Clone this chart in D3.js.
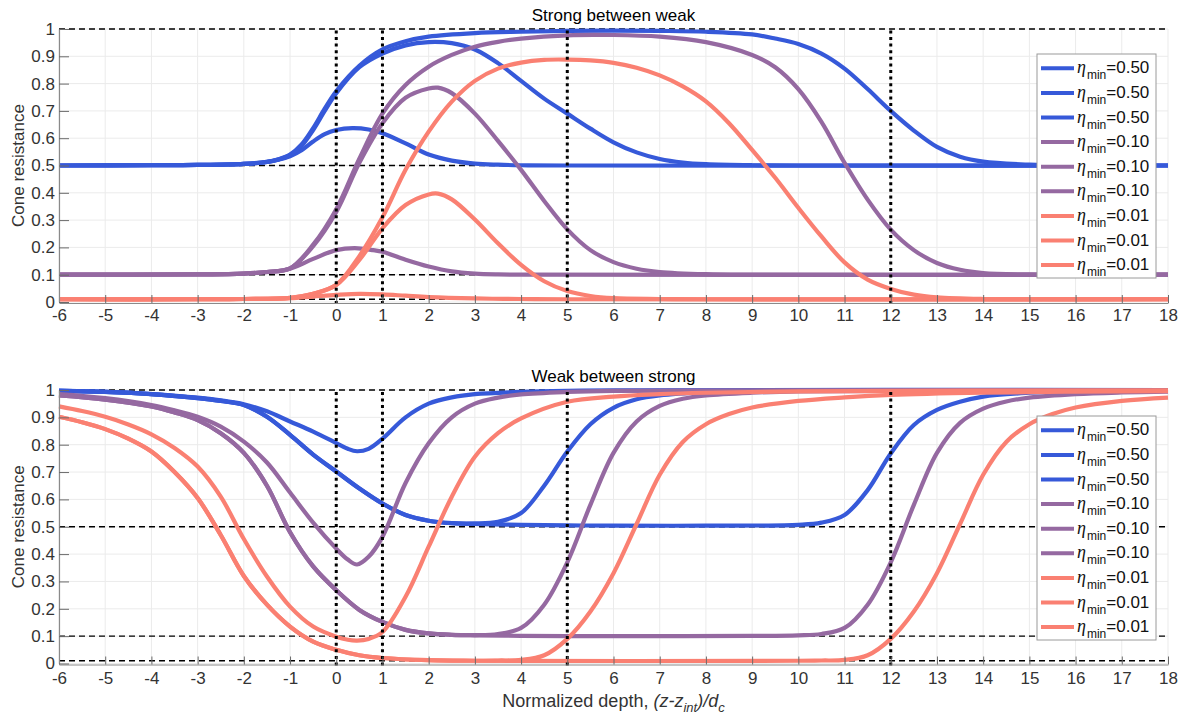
<!DOCTYPE html>
<html>
<head>
<meta charset="utf-8">
<script src="https://cdn.jsdelivr.net/npm/d3@7"></script>
<style>
  html, body { margin: 0; padding: 0; background: #fff; }
  svg { display: block; }
  text { font-family: "Liberation Sans", Arial, sans-serif; }
</style>
</head>
<body>
<svg id="chart" width="1184" height="717"></svg>
<script>
// ---------------- DATA ----------------
const xTicks = [-6,-5,-4,-3,-2,-1,0,1,2,3,4,5,6,7,8,9,10,11,12,13,14,15,16,17,18];
const yTicks = [0,0.1,0.2,0.3,0.4,0.5,0.6,0.7,0.8,0.9,1];
const refLevels = [1, 0.5, 0.1, 0.01];          // dashed horizontal lines
const layerBounds = [0, 1, 5, 12];              // dotted vertical lines
const legendEta = ["0.50","0.50","0.50","0.10","0.10","0.10","0.01","0.01","0.01"];
const panelTitles = ["Strong between weak", "Weak between strong"];

// Top panel: strong layer between weak (eta_min = 0.50, 0.10, 0.01; H = 1, 5, 12)
const topB1 = [[-6,0.5],[-4,0.501],[-3,0.502],[-2,0.506],[-1.5,0.513],[-1.25,0.521],[-1,0.534],[-0.75,0.556],[-0.5,0.588],[-0.25,0.615],[0,0.63],[0.35,0.637],[0.7,0.632],[1,0.618],[1.5,0.581],[2,0.54],[2.5,0.518],[3,0.507],[3.5,0.503],[4,0.501],[5,0.5],[18,0.5]];
const topB5 = [[-6,0.5],[-4,0.501],[-3,0.502],[-2,0.506],[-1.5,0.513],[-1.25,0.522],[-1,0.538],[-0.75,0.572],[-0.5,0.63],[-0.25,0.7],[0,0.765],[0.5,0.86],[1,0.91],[1.5,0.94],[2,0.952],[2.5,0.948],[3,0.925],[3.5,0.875],[4,0.81],[4.5,0.745],[5,0.69],[5.5,0.635],[6,0.585],[6.5,0.548],[7,0.524],[7.5,0.511],[8,0.505],[9,0.501],[10,0.5],[18,0.5]];
const topB12 = [[-6,0.5],[-4,0.501],[-3,0.502],[-2,0.506],[-1.5,0.513],[-1.25,0.523],[-1,0.54],[-0.75,0.577],[-0.5,0.637],[-0.25,0.708],[0,0.772],[0.5,0.865],[1,0.925],[1.5,0.955],[2,0.972],[3,0.985],[4,0.99],[5,0.993],[6,0.994],[7,0.993],[8,0.99],[9,0.98],[9.5,0.965],[10,0.945],[10.5,0.91],[11,0.855],[11.5,0.78],[12,0.7],[12.5,0.628],[13,0.568],[13.5,0.532],[14,0.514],[15,0.503],[16,0.5],[18,0.5]];
const topP1 = [[-6,0.1],[-3,0.101],[-2,0.104],[-1.5,0.11],[-1,0.122],[-0.5,0.158],[0,0.19],[0.4,0.197],[0.8,0.19],[1,0.184],[1.5,0.155],[2,0.13],[2.5,0.112],[3,0.104],[3.5,0.101],[4,0.1],[18,0.1]];
const topP5 = [[-6,0.1],[-3,0.101],[-2,0.104],[-1.5,0.11],[-1,0.123],[-0.5,0.205],[0,0.33],[0.5,0.51],[1,0.655],[1.5,0.748],[2,0.782],[2.2,0.785],[2.5,0.765],[3,0.69],[3.5,0.59],[4,0.484],[4.5,0.37],[5,0.266],[5.5,0.19],[6,0.146],[6.5,0.122],[7,0.11],[8,0.102],[9,0.1],[18,0.1]];
const topP12 = [[-6,0.1],[-3,0.101],[-2,0.104],[-1.5,0.11],[-1,0.123],[-0.5,0.21],[0,0.34],[0.5,0.525],[1,0.69],[1.5,0.795],[2,0.862],[2.5,0.905],[3,0.935],[3.5,0.953],[4,0.965],[5,0.977],[6,0.978],[7,0.972],[8,0.952],[9,0.905],[9.5,0.86],[10,0.78],[10.5,0.66],[11,0.51],[11.5,0.375],[12,0.265],[12.5,0.19],[13,0.143],[13.5,0.118],[14,0.106],[15,0.101],[16,0.1],[18,0.1]];
const topS1 = [[-6,0.01],[-3,0.01],[-2,0.011],[-1,0.014],[-0.5,0.02],[0,0.026],[0.5,0.03],[1,0.028],[1.5,0.023],[2,0.018],[3,0.013],[4,0.011],[5,0.01],[18,0.01]];
const topS5 = [[-6,0.01],[-3,0.01],[-2,0.011],[-1,0.015],[-0.5,0.03],[0,0.062],[0.5,0.154],[1,0.27],[1.5,0.355],[2,0.394],[2.2,0.397],[2.5,0.376],[3,0.302],[3.5,0.215],[4,0.136],[4.5,0.076],[5,0.04],[5.5,0.022],[6,0.014],[7,0.011],[8,0.01],[18,0.01]];
const topS12 = [[-6,0.01],[-3,0.01],[-2,0.011],[-1,0.015],[-0.5,0.03],[0,0.063],[0.5,0.168],[1,0.31],[1.5,0.484],[2,0.624],[2.5,0.734],[3,0.81],[3.5,0.855],[4,0.877],[4.5,0.887],[5,0.888],[5.5,0.885],[6,0.876],[6.5,0.858],[7,0.83],[7.5,0.79],[8,0.735],[8.5,0.655],[9,0.557],[9.5,0.455],[10,0.345],[10.5,0.24],[11,0.145],[11.5,0.082],[12,0.048],[12.5,0.027],[13,0.017],[14,0.011],[15,0.01],[18,0.01]];

// Bottom panel: weak layer between strong
const botB1 = [[-6,0.998],[-5,0.993],[-4,0.985],[-3,0.972],[-2.5,0.962],[-2,0.948],[-1.5,0.922],[-1,0.885],[-0.5,0.848],[0,0.806],[0.25,0.785],[0.45,0.776],[0.7,0.785],[1,0.822],[1.5,0.9],[2,0.95],[2.5,0.973],[3,0.985],[4,0.993],[5,0.997],[6,0.999],[18,1.0]];
const botB5 = [[-6,0.997],[-5,0.993],[-4,0.985],[-3,0.97],[-2.5,0.96],[-2,0.945],[-1.5,0.902],[-1,0.836],[-0.5,0.764],[0,0.702],[0.5,0.64],[1,0.585],[1.5,0.543],[2,0.522],[2.5,0.513],[3,0.512],[3.5,0.518],[4,0.55],[4.5,0.65],[5,0.775],[5.5,0.875],[6,0.935],[6.5,0.966],[7,0.98],[8,0.992],[9,0.997],[18,1.0]];
const botB12 = [[-6,0.997],[-5,0.993],[-4,0.985],[-3,0.97],[-2.5,0.96],[-2,0.945],[-1.5,0.902],[-1,0.836],[-0.5,0.764],[0,0.702],[0.5,0.64],[1,0.585],[1.5,0.543],[2,0.522],[2.5,0.513],[3,0.51],[4,0.507],[5,0.505],[6,0.504],[8,0.504],[10,0.507],[10.5,0.515],[11,0.543],[11.5,0.634],[12,0.768],[12.5,0.872],[13,0.927],[13.5,0.957],[14,0.976],[15,0.99],[16,0.996],[18,1.0]];
const botP1 = [[-6,0.985],[-5,0.97],[-4,0.945],[-3.5,0.926],[-3,0.902],[-2.5,0.866],[-2,0.811],[-1.5,0.735],[-1,0.625],[-0.5,0.515],[0,0.42],[0.25,0.38],[0.45,0.362],[0.7,0.39],[1,0.463],[1.5,0.66],[2,0.805],[2.5,0.9],[3,0.95],[3.5,0.972],[4,0.984],[5,0.993],[6,0.997],[18,1.0]];
const botP5 = [[-6,0.98],[-5,0.965],[-4,0.94],[-3.5,0.918],[-3,0.89],[-2.5,0.842],[-2,0.77],[-1.5,0.65],[-1,0.48],[-0.5,0.355],[0,0.268],[0.5,0.196],[1,0.152],[1.5,0.123],[2,0.11],[2.5,0.105],[3,0.104],[3.5,0.108],[4,0.13],[4.5,0.215],[5,0.37],[5.5,0.58],[6,0.77],[6.5,0.885],[7,0.942],[7.5,0.968],[8,0.98],[9,0.99],[10,0.995],[18,1.0]];
const botP12 = [[-6,0.98],[-5,0.965],[-4,0.94],[-3.5,0.918],[-3,0.89],[-2.5,0.842],[-2,0.77],[-1.5,0.65],[-1,0.48],[-0.5,0.355],[0,0.268],[0.5,0.196],[1,0.152],[1.5,0.123],[2,0.11],[2.5,0.105],[3,0.103],[4,0.101],[5,0.1],[6,0.1],[9,0.101],[10,0.103],[10.5,0.108],[11,0.13],[11.5,0.215],[12,0.37],[12.5,0.58],[13,0.77],[13.5,0.88],[14,0.932],[14.5,0.958],[15,0.972],[16,0.985],[17,0.991],[18,0.994]];
const botS1 = [[-6,0.94],[-5.5,0.923],[-5,0.902],[-4.5,0.874],[-4,0.838],[-3.5,0.788],[-3,0.72],[-2.5,0.61],[-2,0.455],[-1.5,0.318],[-1,0.208],[-0.5,0.135],[0,0.098],[0.25,0.087],[0.45,0.084],[0.7,0.09],[1,0.115],[1.5,0.244],[2,0.427],[2.5,0.61],[3,0.756],[3.5,0.842],[4,0.896],[5,0.957],[6,0.976],[7,0.985],[8,0.99],[10,0.995],[18,0.999]];
const botS5 = [[-6,0.902],[-5.5,0.882],[-5,0.857],[-4.5,0.822],[-4,0.775],[-3.5,0.7],[-3,0.605],[-2.5,0.47],[-2,0.32],[-1.5,0.215],[-1,0.135],[-0.5,0.08],[0,0.05],[0.5,0.03],[1,0.02],[2,0.012],[3,0.01],[3.5,0.011],[4,0.013],[4.5,0.03],[5,0.09],[5.5,0.19],[6,0.33],[6.5,0.51],[7,0.69],[7.5,0.81],[8,0.875],[8.5,0.912],[9,0.936],[10,0.96],[11,0.973],[12,0.982],[14,0.99],[16,0.994],[18,0.996]];
const botS12 = [[-6,0.902],[-5.5,0.882],[-5,0.857],[-4.5,0.822],[-4,0.775],[-3.5,0.7],[-3,0.605],[-2.5,0.47],[-2,0.32],[-1.5,0.215],[-1,0.135],[-0.5,0.08],[0,0.05],[0.5,0.03],[1,0.02],[2,0.012],[3,0.01],[10,0.01],[10.5,0.011],[11,0.013],[11.5,0.03],[12,0.09],[12.5,0.19],[13,0.33],[13.5,0.51],[14,0.69],[14.5,0.81],[15,0.875],[15.5,0.912],[16,0.936],[17,0.96],[18,0.972]];

const topSeries = [topB1, topB5, topB12, topP1, topP5, topP12, topS1, topS5, topS12];
const botSeries = [botB1, botB5, botB12, botP1, botP5, botP12, botS1, botS5, botS12];

// ---------------- STYLE ----------------
const palette = ["#3659d9","#3659d9","#3659d9","#9569a1","#9569a1","#9569a1","#fa8072","#fa8072","#fa8072"];
const plotLeft = 59, plotRight = 1168;
const panels = [
  { top: 29,  bottom: 302,   series: topSeries, title: panelTitles[0], legendTop: 54,  pad: 6 },
  { top: 390, bottom: 663.5, series: botSeries, title: panelTitles[1], legendTop: 416, pad: 7 }
];

const svg = d3.select("#chart");
const x = d3.scaleLinear().domain([-6, 18]).range([plotLeft, plotRight]);

panels.forEach(p => {
  const y = d3.scaleLinear().domain([0, 1]).range([p.bottom, p.top]);
  const g = svg.append("g");

  // grid
  g.append("g").selectAll("line").data(xTicks).join("line")
    .attr("x1", d => x(d)).attr("x2", d => x(d))
    .attr("y1", y(0)).attr("y2", y(1))
    .attr("stroke", "#ebebeb").attr("stroke-width", 1);
  g.append("g").selectAll("line").data(yTicks).join("line")
    .attr("x1", x(-6)).attr("x2", x(18))
    .attr("y1", d => y(d)).attr("y2", d => y(d))
    .attr("stroke", "#ebebeb").attr("stroke-width", 1);

  // dashed reference levels
  g.append("g").selectAll("line").data(refLevels).join("line")
    .attr("x1", x(-6)).attr("x2", x(18))
    .attr("y1", d => y(d)).attr("y2", d => y(d))
    .attr("stroke", "#000").attr("stroke-width", 1.4)
    .attr("stroke-dasharray", "6,4");

  // curves
  const line = d3.line().x(d => x(d[0])).y(d => y(d[1])).curve(d3.curveCatmullRom.alpha(0.5));
  g.append("g").selectAll("path").data(p.series).join("path")
    .attr("d", d => line(d))
    .attr("fill", "none")
    .attr("stroke", (d, i) => palette[i])
    .attr("stroke-width", 4.2)
    .attr("stroke-linejoin", "round");

  // dotted layer boundaries
  g.append("g").selectAll("line").data(layerBounds).join("line")
    .attr("x1", d => x(d)).attr("x2", d => x(d))
    .attr("y1", y(0) + 2).attr("y2", y(1))
    .attr("stroke", "#000").attr("stroke-width", 3)
    .attr("stroke-dasharray", "3,3.6");

  // axes
  const xAxis = d3.axisBottom(x).tickValues(xTicks).tickSizeInner(-8).tickSizeOuter(0).tickPadding(p.pad)
    .tickFormat(d => String(d));
  const gx = g.append("g").attr("transform", `translate(0,${p.bottom + 1})`).call(xAxis);
  const yAxis = d3.axisLeft(y).tickValues(yTicks).tickSizeInner(-10).tickSizeOuter(0).tickPadding(4)
    .tickFormat(d => String(+d.toFixed(1)));
  const gy = g.append("g").attr("transform", `translate(${plotLeft},0)`).call(yAxis);
  [gx, gy].forEach(a => {
    a.select(".domain").attr("stroke", "#8a8a8a").attr("stroke-width", 1.2);
    a.selectAll(".tick line").attr("stroke", "#6a6a6a").attr("stroke-width", 1);
    a.selectAll(".tick text").attr("fill", "#333").attr("font-size", 17)
      .attr("font-family", "Liberation Sans, Arial, sans-serif");
  });

  // y label
  g.append("text")
    .attr("transform", `translate(24,${(p.top + p.bottom) / 2}) rotate(-90)`)
    .attr("text-anchor", "middle")
    .attr("font-size", 17).attr("fill", "#333")
    .text("Cone resistance");

  // title
  g.append("text")
    .attr("x", (plotLeft + plotRight) / 2).attr("y", p.top - 8)
    .attr("text-anchor", "middle")
    .attr("font-size", 17).attr("fill", "#000")
    .text(p.title);

  // legend
  const lg = g.append("g").attr("transform", `translate(1037,${p.legendTop})`);
  lg.append("rect").attr("x", 0).attr("y", 0).attr("width", 119).attr("height", 224)
    .attr("fill", "#fff").attr("stroke", "#9a9a9a").attr("stroke-width", 1);
  const items = lg.selectAll("g.item").data(legendEta).join("g")
    .attr("class", "item")
    .attr("transform", (d, i) => `translate(0,${14.3 + i * 24.6})`);
  items.append("line").attr("x1", 4).attr("x2", 37).attr("y1", 0).attr("y2", 0)
    .attr("stroke", (d, i) => palette[i]).attr("stroke-width", 4);
  const t = items.append("text").attr("x", 40).attr("y", 5).attr("fill", "#111");
  t.append("tspan").attr("font-family", "Liberation Serif, DejaVu Serif, serif")
    .attr("font-style", "italic").attr("font-size", 18).text("η");
  t.append("tspan").attr("font-size", 12).attr("dy", 6).attr("dx", 1).text("min");
  t.append("tspan").attr("font-size", 17).attr("dy", -6).text(d => "=" + d);
});

// x label
const xl = svg.append("text")
  .attr("x", (plotLeft + plotRight) / 2).attr("y", 706.5)
  .attr("text-anchor", "middle").attr("font-size", 18).attr("fill", "#333");
xl.append("tspan").text("Normalized depth, ");
xl.append("tspan").attr("font-style", "italic").text("(z-z");
xl.append("tspan").attr("font-style", "italic").attr("font-size", 13).attr("dy", 5).text("int");
xl.append("tspan").attr("font-style", "italic").attr("dy", -5).text(")/d");
xl.append("tspan").attr("font-style", "italic").attr("font-size", 13).attr("dy", 5).text("c");
</script>
</body>
</html>
